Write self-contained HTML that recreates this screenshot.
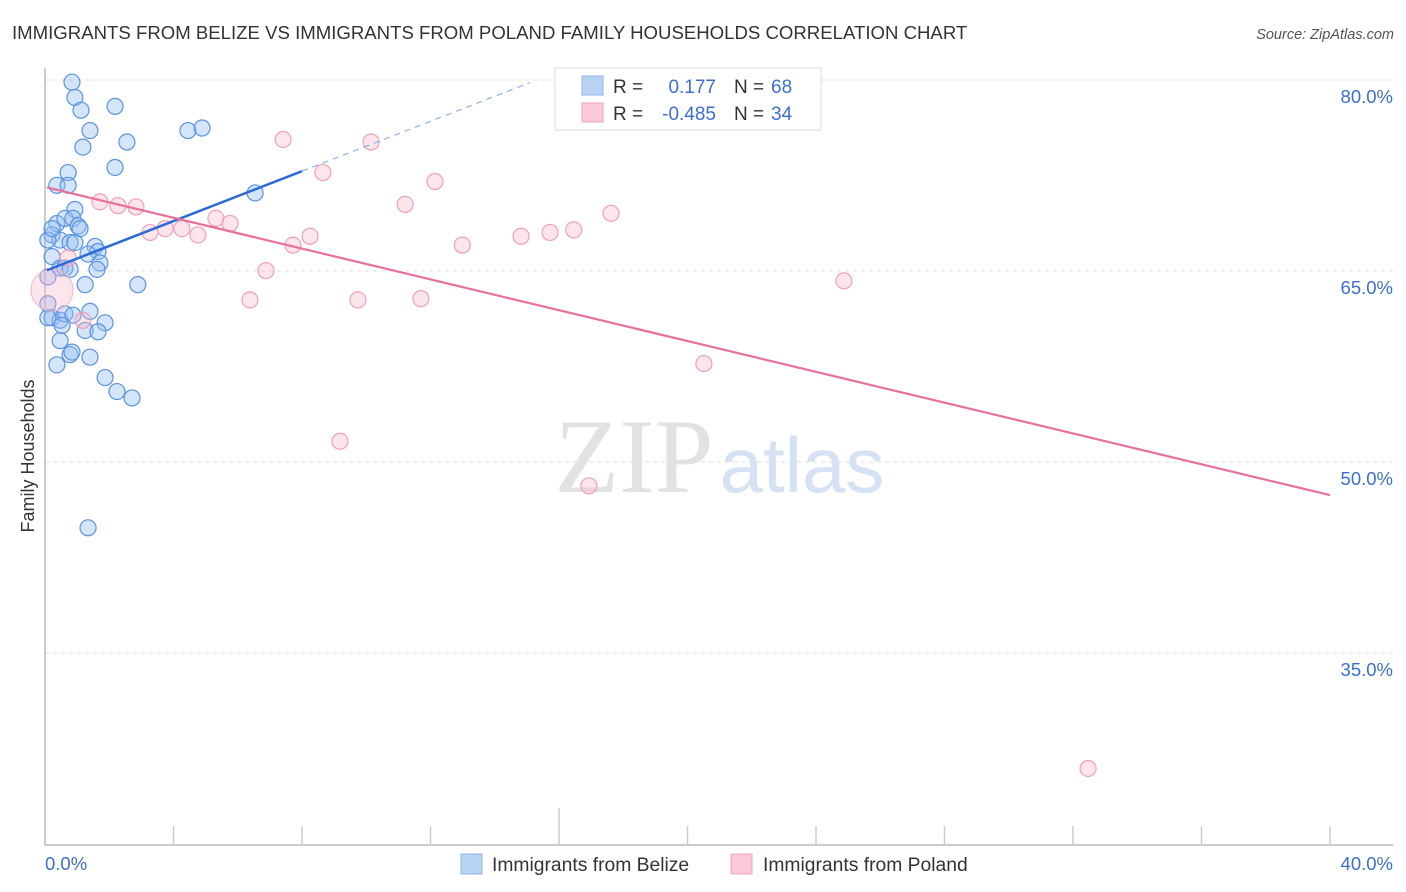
<!DOCTYPE html>
<html><head><meta charset="utf-8"><style>
body{margin:0;background:#fff;font-family:"Liberation Sans",sans-serif;}
svg{display:block}
</style></head><body>
<svg width="1406" height="892" id="c">
<text x="12" y="39" font-size="18.6" fill="#333">IMMIGRANTS FROM BELIZE VS IMMIGRANTS FROM POLAND FAMILY HOUSEHOLDS CORRELATION CHART</text>
<text x="1394" y="39" font-size="14.5" fill="#555" font-style="italic" text-anchor="end">Source: ZipAtlas.com</text>
<text transform="translate(34,456) rotate(-90)" font-size="18" fill="#333" text-anchor="middle">Family Households</text>
<g>
<text x="634" y="492" font-size="106" font-family="Liberation Serif,serif" fill="#e2e2e2" text-anchor="middle">ZIP</text>
<text x="802" y="492" font-size="78" fill="#d4e2f4" text-anchor="middle">atlas</text>
</g>
<g id="grid"></g><g id="axes"></g><g id="pts"></g><g id="lines"></g>
<g>
<rect x="555" y="68" width="266" height="62" fill="#fff" stroke="#ddd"/>
<rect x="582" y="76" width="21" height="19" fill="#b9d3f5" stroke="#8fb5ea"/>
<rect x="582" y="103" width="21" height="19" fill="#fbc9d8" stroke="#f0a3bb"/>
<text x="613" y="93" font-size="19" fill="#333">R =</text>
<text x="716" y="93" font-size="19" fill="#3b6fd1" text-anchor="end">0.177</text>
<text x="734" y="93" font-size="19" fill="#333">N =</text>
<text x="771" y="93" font-size="19" fill="#3b6fd1">68</text>
<text x="613" y="120" font-size="19" fill="#333">R =</text>
<text x="716" y="120" font-size="19" fill="#3b6fd1" text-anchor="end">-0.485</text>
<text x="734" y="120" font-size="19" fill="#333">N =</text>
<text x="771" y="120" font-size="19" fill="#3b6fd1">34</text>
</g>
<g>
<rect x="461" y="854" width="21" height="20" fill="#b9d3f5" stroke="#8fb5ea"/>
<text x="492" y="871" font-size="19.3" fill="#333">Immigrants from Belize</text>
<rect x="731" y="854" width="21" height="20" fill="#fbc9d8" stroke="#f0a3bb"/>
<text x="763" y="871" font-size="19.3" fill="#333">Immigrants from Poland</text>
</g>
</svg>
<script>
const yTicks=[80,65,50,35];
const yTickLabels=["80.0%","65.0%","50.0%","35.0%"];
const xTickLabels=["0.0%","40.0%"];
const belizeX=[0.84,0.93,1.12,2.18,1.40,1.18,2.55,4.45,4.89,2.18,0.72,0.37,0.72,6.54,0.93,0.37,0.62,0.87,1.03,0.22,0.47,0.78,0.93,1.56,1.65,1.34,0.22,1.71,0.47,0.62,0.78,1.62,1.25,2.89,0.09,0.09,0.22,0.47,0.62,0.87,1.40,1.87,1.25,1.65,0.47,0.78,0.84,1.40,0.37,1.87,2.24,2.71,1.34,0.09,0.22,0.09,0.53,1.09];
const belizeY=[79.83,78.63,77.63,77.93,76.03,74.73,75.13,76.03,76.23,73.13,72.73,71.73,71.73,71.13,69.83,68.73,69.13,69.13,68.53,67.83,67.43,67.23,67.23,66.93,66.53,66.33,66.13,65.63,65.23,65.23,65.13,65.13,63.93,63.93,64.53,62.43,61.33,61.13,61.63,61.53,61.83,60.93,60.33,60.23,59.53,58.43,58.63,58.23,57.63,56.63,55.53,55.03,44.83,67.43,68.33,61.33,60.73,68.33];
const polandX=[0.72,1.18,1.71,2.27,2.83,3.27,3.74,4.26,4.76,5.32,5.76,6.38,6.88,7.41,7.72,8.25,8.65,9.18,9.74,10.15,11.21,11.70,12.14,12.99,14.82,15.72,16.46,16.93,17.62,20.51,24.87,32.47,19.14];
const polandY=[66.03,61.13,70.43,70.13,70.03,68.03,68.33,68.33,67.83,69.13,68.73,62.73,65.03,75.33,67.03,67.73,72.73,51.63,62.73,75.13,70.23,62.83,72.03,67.03,67.73,68.03,68.23,48.13,69.53,57.73,64.23,25.93,77.83];
const bigPoland=[0.22,63.5];
const belizeTrend=[65.0,0.98];   // intercept, slope
const polandTrend=[71.6,-0.605];
const X=v=>45+v*32.125, Y=v=>80+(80-v)*12.733;
const NS="http://www.w3.org/2000/svg";
function mk(tag,attrs,parent){const e=document.createElementNS(NS,tag);for(const k in attrs)e.setAttribute(k,attrs[k]);document.getElementById(parent).appendChild(e);return e;}
yTicks.forEach((t,i)=>{
 const g=mk('line',{x1:45,x2:1393,y1:Y(t),y2:Y(t),stroke:'#ddd','stroke-dasharray':'4,4'},'grid');
 
 
 const l=mk('text',{x:1393,y:Y(t)+23,'font-size':18.5,fill:'#3b6fd1','text-anchor':'end'},'axes');
 l.textContent=yTickLabels[i];
 
 
});
let ax=mk('line',{x1:45,x2:1393,y1:845,y2:845,stroke:'#bbb','stroke-width':1.5},'axes');


let ay=mk('line',{x1:45,x2:45,y1:68,y2:845,stroke:'#bbb','stroke-width':1.5},'axes');


for(let i=1;i<=10;i++){const t=mk('line',{x1:X(i*4),x2:X(i*4),y1:i==4?808:826,y2:845,stroke:'#ccc','stroke-width':1.5},'axes');
 
 }
[0,40].forEach((v,i)=>{const t=mk('text',{x:i?1393:45,y:870,'font-size':18.5,fill:'#3b6fd1','text-anchor':i?'end':'start'},'axes');t.textContent=xTickLabels[i];
 
 });
belizeX.forEach((x,i)=>{const c=mk('circle',{cx:X(x),cy:Y(belizeY[i]),r:8,fill:'rgba(150,190,240,0.4)',stroke:'#5a93e0','stroke-width':1.2},'pts');
 
 });
polandX.forEach((x,i)=>{const c=mk('circle',{cx:X(x),cy:Y(polandY[i]),r:8,fill:'rgba(250,180,200,0.35)',stroke:'#eea0b8','stroke-width':1.2,opacity:i==polandX.length-1?0.4:1},'pts');
 
 });
const bp=mk('circle',{cx:X(bigPoland[0]),cy:Y(bigPoland[1]),r:21,fill:'rgba(250,180,200,0.35)',stroke:'#f3b5c8'},'pts');


const bt=x=>belizeTrend[0]+belizeTrend[1]*x, pt=x=>polandTrend[0]+polandTrend[1]*x;
let l1=mk('line',{x1:X(0.06),y1:Y(bt(0.06)),x2:X(8.0),y2:Y(bt(8.0)),stroke:'#2a6ad6','stroke-width':2.5},'lines');


let l2=mk('line',{x1:X(8.0),y1:Y(bt(8.0)),x2:X(15.1),y2:Y(bt(15.1)),stroke:'#7aa5e6','stroke-width':1,'stroke-dasharray':'6,5'},'lines');


let l3=mk('line',{x1:X(0.06),y1:Y(pt(0.06)),x2:X(40),y2:Y(pt(40)),stroke:'#e8709a','stroke-width':2.2},'lines');


</script>
</body></html>
